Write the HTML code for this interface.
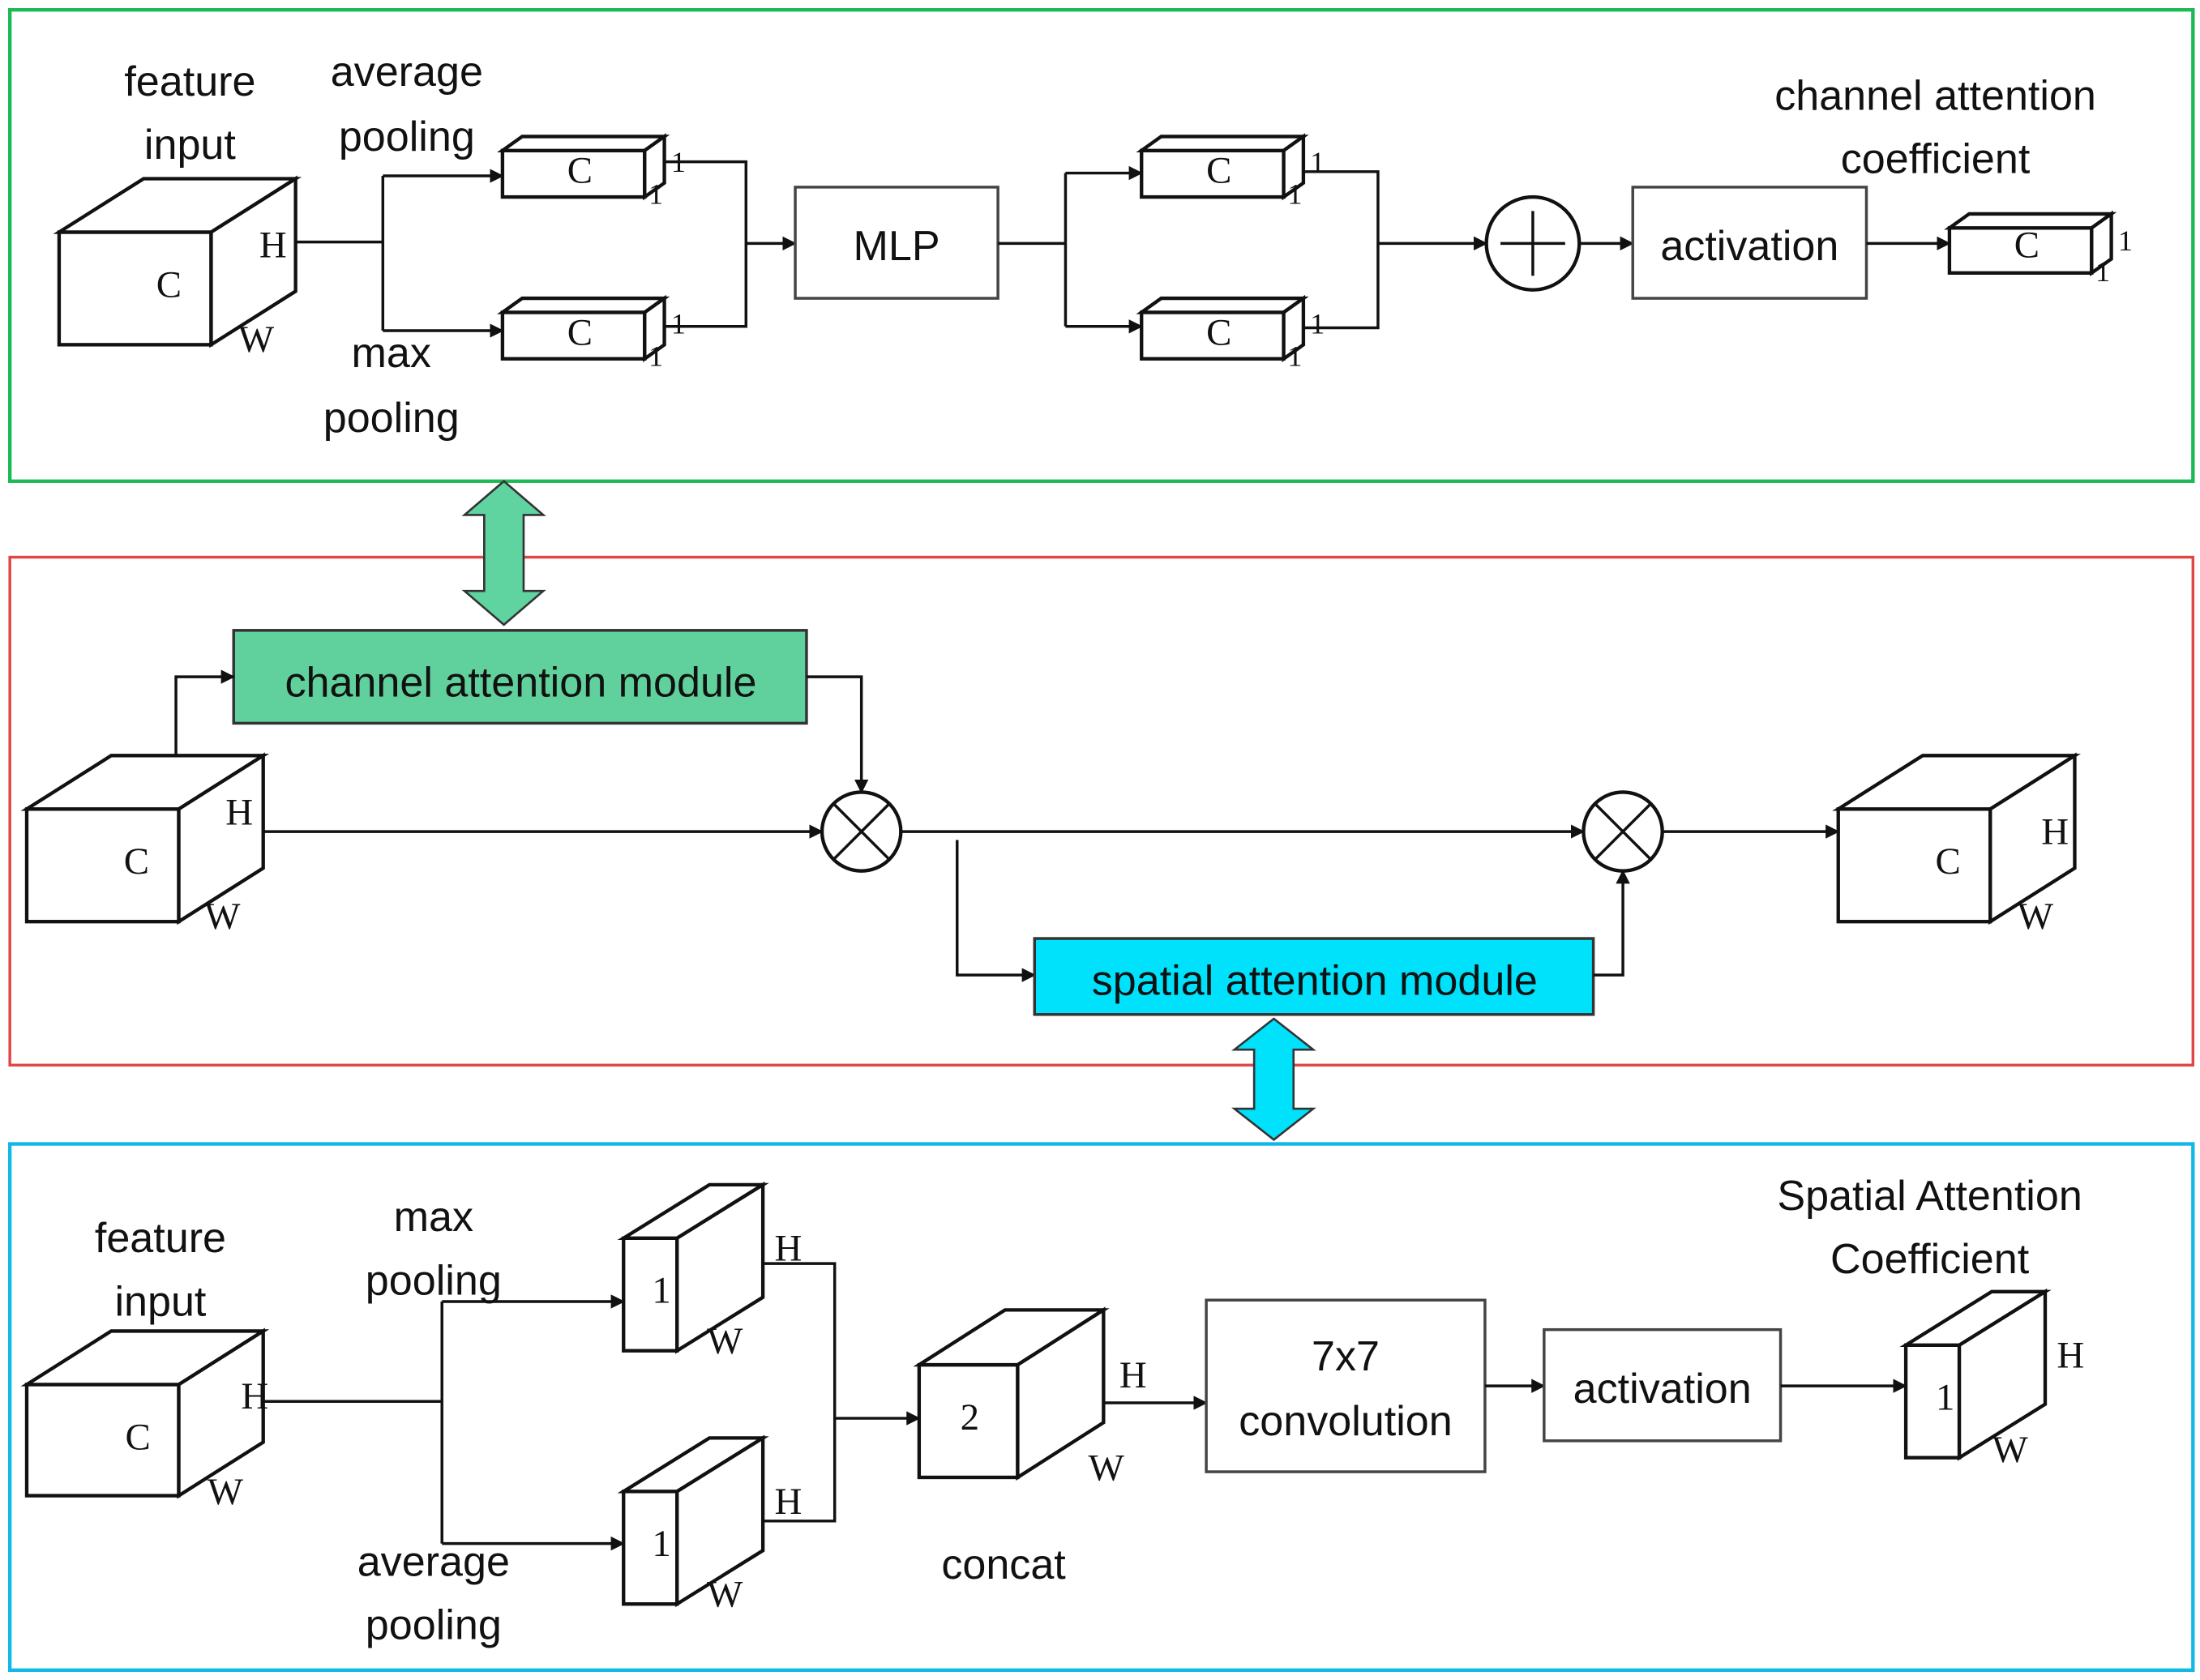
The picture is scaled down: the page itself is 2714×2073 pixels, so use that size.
<!DOCTYPE html>
<html><head><meta charset="utf-8"><style>
html,body{margin:0;padding:0;background:#fff;}
svg{display:block;}
.s{font-family:"Liberation Sans",sans-serif;font-size:30px;fill:#111;text-anchor:middle;}
.r{font-family:"Liberation Serif",serif;font-size:27px;fill:#111;text-anchor:middle;}
.t{font-family:"Liberation Serif",serif;font-size:21px;fill:#111;text-anchor:middle;}
.l{stroke:#111;stroke-width:2;fill:none;}
.b{stroke:#111;stroke-width:2.5;fill:#fff;stroke-linejoin:miter;}
</style></head><body>
<svg width="2714" height="2073" viewBox="0 0 1563 1194" preserveAspectRatio="none" xmlns="http://www.w3.org/2000/svg">
<defs><marker id="a" markerWidth="10" markerHeight="10" refX="9" refY="5" orient="auto" markerUnits="userSpaceOnUse"><path d="M0,0 L10,5 L0,10 z" fill="#111"/></marker></defs>
<rect width="1563" height="1194" fill="#fff"/>
<rect x="7" y="7" width="1551" height="335" fill="none" stroke="#1db954" stroke-width="2.5"/>
<rect x="7" y="396" width="1551" height="361" fill="none" stroke="#e04848" stroke-width="2"/>
<rect x="7" y="813" width="1551" height="374" fill="none" stroke="#10b8e8" stroke-width="2.5"/>

<!-- TOP -->
<g class="b"><rect x="42" y="165" width="108" height="80"/><path d="M42,165 L102,127 L210,127 L150,165 Z"/><path d="M150,165 L210,127 L210,207 L150,245 Z"/></g>
<text class="r" x="120" y="211">C</text><text class="r" x="194" y="183">H</text><text class="r" x="182" y="250">W</text>
<text class="s" x="135" y="68">feature</text><text class="s" x="135" y="113">input</text>
<text class="s" x="289" y="61">average</text><text class="s" x="289" y="107">pooling</text>
<text class="s" x="278" y="261">max</text><text class="s" x="278" y="307">pooling</text>
<path class="l" d="M210,172 H272 M272,125 V235"/>
<path class="l" d="M272,125 H357" marker-end="url(#a)"/><path class="l" d="M272,235 H357" marker-end="url(#a)"/>
<g id="sb"><g class="b"><rect x="357" y="107" width="101" height="33"/><path d="M357,107 L371,97 L472,97 L458,107 Z"/><path d="M458,107 L472,97 L472,130 L458,140 Z"/></g>
<text class="r" x="412" y="130">C</text><text class="t" x="482" y="122">1</text><text class="t" x="466" y="145">1</text></g>
<use href="#sb" transform="translate(0,115)"/>
<use href="#sb" transform="translate(454,0)"/>
<use href="#sb" transform="translate(454,115)"/>
<path class="l" d="M472,115 H530 V232 H472"/>
<path class="l" d="M530,173 H565" marker-end="url(#a)"/>
<rect x="565" y="133" width="144" height="79" fill="#fff" stroke="#444" stroke-width="2"/>
<text class="s" x="637" y="185">MLP</text>
<path class="l" d="M709,173 H757 M757,123 V232"/>
<path class="l" d="M757,123 H811" marker-end="url(#a)"/><path class="l" d="M757,232 H811" marker-end="url(#a)"/>
<path class="l" d="M926,122 H979 V233 H926"/>
<path class="l" d="M979,173 H1056" marker-end="url(#a)"/>
<circle cx="1089" cy="173" r="33" class="b"/><path class="l" d="M1089,150 V196 M1066,173 H1112"/>
<path class="l" d="M1122,173 H1160" marker-end="url(#a)"/>
<rect x="1160" y="133" width="166" height="79" fill="#fff" stroke="#444" stroke-width="2"/>
<text class="s" x="1243" y="185">activation</text>
<path class="l" d="M1326,173 H1385" marker-end="url(#a)"/>
<g class="b"><rect x="1385" y="162" width="101" height="32"/><path d="M1385,162 L1399,152 L1500,152 L1486,162 Z"/><path d="M1486,162 L1500,152 L1500,184 L1486,194 Z"/></g>
<text class="r" x="1440" y="183">C</text><text class="t" x="1510" y="178">1</text><text class="t" x="1494" y="200">1</text>
<text class="s" x="1375" y="78">channel attention</text><text class="s" x="1375" y="123">coefficient</text>

<!-- green double arrow -->
<path d="M358,342 L386,366 L372,366 L372,420 L386,420 L358,444 L330,420 L344,420 L344,366 L330,366 Z" fill="#5fd3a0" stroke="#333" stroke-width="1.5"/>

<!-- MIDDLE -->
<rect x="166" y="448" width="407" height="66" fill="#60d19c" stroke="#333" stroke-width="2"/>
<text class="s" x="370" y="495">channel attention module</text>
<g class="b"><rect x="19" y="575" width="108" height="80"/><path d="M19,575 L79,537 L187,537 L127,575 Z"/><path d="M127,575 L187,537 L187,617 L127,655 Z"/></g>
<text class="r" x="97" y="621">C</text><text class="r" x="170" y="586">H</text><text class="r" x="158" y="660">W</text>
<path class="l" d="M125,537 V481 H166" marker-end="url(#a)"/>
<path class="l" d="M187,591 H584" marker-end="url(#a)"/>
<path class="l" d="M573,481 H612 V563" marker-end="url(#a)"/>
<circle cx="612" cy="591" r="28" class="b"/><path class="l" d="M592,571 L632,611 M632,571 L592,611"/>
<path class="l" d="M640,591 H1125" marker-end="url(#a)"/>
<path class="l" d="M680,597 V693 H735" marker-end="url(#a)"/>
<rect x="735" y="667" width="397" height="54" fill="#00e1fb" stroke="#333" stroke-width="2"/>
<text class="s" x="934" y="707">spatial attention module</text>
<path class="l" d="M1132,693 H1153 V619" marker-end="url(#a)"/>
<circle cx="1153" cy="591" r="28" class="b"/><path class="l" d="M1133,571 L1173,611 M1173,571 L1133,611"/>
<path class="l" d="M1181,591 H1306" marker-end="url(#a)"/>
<g class="b"><rect x="1306" y="575" width="108" height="80"/><path d="M1306,575 L1366,537 L1474,537 L1414,575 Z"/><path d="M1414,575 L1474,537 L1474,617 L1414,655 Z"/></g>
<text class="r" x="1384" y="621">C</text><text class="r" x="1460" y="600">H</text><text class="r" x="1446" y="660">W</text>

<!-- cyan double arrow -->
<path d="M905,724 L933,746 L919,746 L919,788 L933,788 L905,810 L877,788 L891,788 L891,746 L877,746 Z" fill="#00e1fb" stroke="#333" stroke-width="1.5"/>

<!-- BOTTOM -->
<g class="b"><rect x="19" y="984" width="108" height="79"/><path d="M19,984 L79,946 L187,946 L127,984 Z"/><path d="M127,984 L187,946 L187,1025 L127,1063 Z"/></g>
<text class="r" x="98" y="1030">C</text><text class="r" x="181" y="1001">H</text><text class="r" x="160" y="1069">W</text>
<text class="s" x="114" y="890">feature</text><text class="s" x="114" y="935">input</text>
<text class="s" x="308" y="875">max</text><text class="s" x="308" y="920">pooling</text>
<text class="s" x="308" y="1120">average</text><text class="s" x="308" y="1165">pooling</text>
<path class="l" d="M187,996 H314 M314,925 V1097"/>
<path class="l" d="M314,925 H443" marker-end="url(#a)"/><path class="l" d="M314,1097 H443" marker-end="url(#a)"/>
<g id="sl"><g class="b"><rect x="443" y="880" width="38" height="80"/><path d="M443,880 L504,842 L542,842 L481,880 Z"/><path d="M481,880 L542,842 L542,922 L481,960 Z"/></g>
<text class="r" x="470" y="926">1</text><text class="r" x="560" y="896">H</text><text class="r" x="515" y="962">W</text></g>
<use href="#sl" transform="translate(0,180)"/>
<path class="l" d="M542,898 H593 V1081 H542"/>
<path class="l" d="M593,1008 H653" marker-end="url(#a)"/>
<g class="b"><rect x="653" y="970" width="70" height="80"/><path d="M653,970 L714,931 L784,931 L723,970 Z"/><path d="M723,970 L784,931 L784,1011 L723,1050 Z"/></g>
<text class="r" x="689" y="1016">2</text><text class="r" x="805" y="986">H</text><text class="r" x="786" y="1052">W</text>
<text class="s" x="713" y="1122">concat</text>
<path class="l" d="M784,997 H857" marker-end="url(#a)"/>
<rect x="857" y="924" width="198" height="122" fill="#fff" stroke="#444" stroke-width="2"/>
<text class="s" x="956" y="974">7x7</text><text class="s" x="956" y="1020">convolution</text>
<path class="l" d="M1055,985 H1097" marker-end="url(#a)"/>
<rect x="1097" y="945" width="168" height="79" fill="#fff" stroke="#444" stroke-width="2"/>
<text class="s" x="1181" y="997">activation</text>
<path class="l" d="M1265,985 H1354" marker-end="url(#a)"/>
<g class="b"><rect x="1354" y="956" width="38" height="80"/><path d="M1354,956 L1415,918 L1453,918 L1392,956 Z"/><path d="M1392,956 L1453,918 L1453,998 L1392,1036 Z"/></g>
<text class="r" x="1382" y="1002">1</text><text class="r" x="1471" y="972">H</text><text class="r" x="1428" y="1039">W</text>
<text class="s" x="1371" y="860">Spatial Attention</text><text class="s" x="1371" y="905">Coefficient</text>
</svg>
</body></html>
